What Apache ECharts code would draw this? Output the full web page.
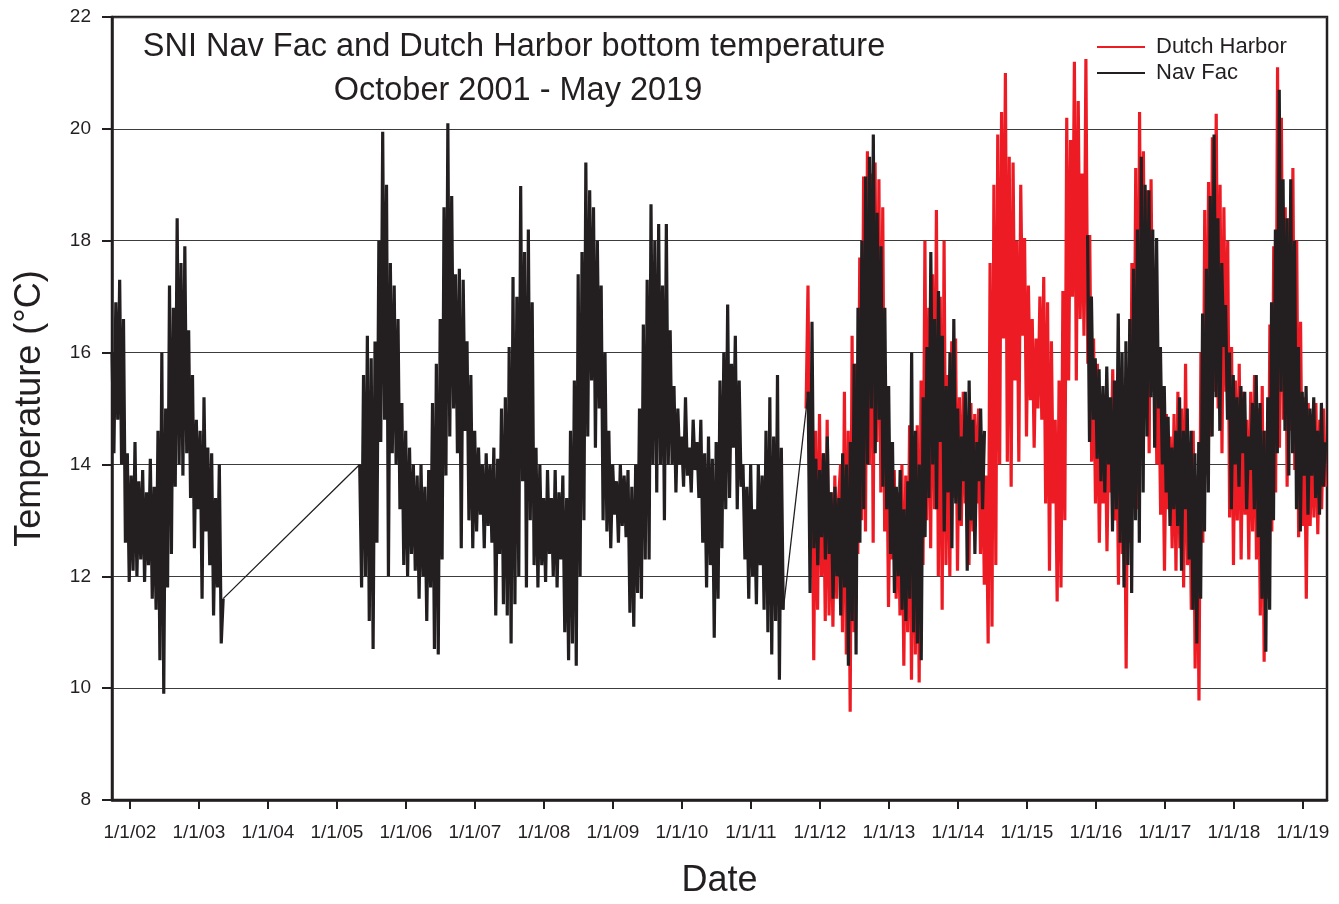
<!DOCTYPE html>
<html>
<head>
<meta charset="utf-8">
<title>SNI Nav Fac and Dutch Harbor bottom temperature</title>
<script src="https://cdn.jsdelivr.net/npm/echarts@6/dist/echarts.min.js"></script>
<style>
  html, body { margin: 0; padding: 0; background: #fff; }
  #chart { width: 1339px; height: 904px; }
</style>
</head>
<body>
<div id="chart"></div>
<script>
// Bottom temperature records (°C), sampled roughly every ten days.
// Each record segment begins at a decimal-year date and runs at SAMPLE_STEP.
const SAMPLE_STEP = 1 / 36;

// Nav Fac, Oct 2001 - May 2003
const navFac2001Start = 2001.74;
const navFac2001 = [16.0,14.2,16.9,14.8,17.3,14.0,16.6,12.6,14.2,11.9,
  13.8,12.1,14.4,12.0,13.7,12.3,13.9,11.9,13.5,12.2,
  14.1,11.6,13.6,11.4,14.6,10.5,16.0,9.9,15.0,11.8,
  17.2,12.4,16.8,13.6,18.4,14.0,17.6,13.8,17.9,14.2,
  16.4,13.4,15.6,12.5,14.8,13.2,14.6,11.6,15.2,12.8,
  14.3,12.2,14.2,11.3,13.4,11.8,14.0,10.8,11.6];

// Nav Fac, May 2005 - Jun 2011
const navFac2005Start = 2005.33;
const navFac2005 = [14.0,11.8,15.6,12.0,16.3,11.2,15.9,10.7,16.2,12.6,
  18.0,14.4,19.95,14.8,19.0,12.0,17.6,14.2,17.2,14.0,
  16.6,13.2,15.1,12.2,14.6,12.0,14.3,12.4,14.0,12.1,
  13.8,11.6,14.0,12.0,13.6,11.2,13.9,11.8,15.1,10.7,
  15.8,10.6,16.6,12.3,18.6,13.8,20.1,14.5,18.8,15.0,
  17.4,14.2,17.5,12.5,17.3,14.6,16.2,13.0,15.6,12.5,
  14.6,12.8,14.3,13.1,14.0,12.5,14.2,12.9,14.0,12.6,
  14.3,11.3,14.1,12.4,15.0,11.5,15.2,11.3,16.1,10.8,
  17.35,11.5,17.0,12.0,18.98,13.7,17.8,11.8,18.2,13.0,
  16.9,12.2,14.3,11.8,14.0,12.2,13.4,11.9,13.9,12.4,
  13.4,12.0,13.9,11.8,13.5,12.3,13.8,11.0,13.4,10.5,
  14.6,10.8,15.5,10.4,17.4,12.0,17.8,13.0,19.4,14.5,
  18.9,15.5,18.6,14.3,18.0,15.0,17.2,13.0,16.0,12.8,
  14.6,12.5,14.0,13.1,13.7,12.6,14.0,12.9,13.8,12.7,
  13.9,11.35,13.6,11.1,14.0,11.7,15.0,11.6,16.5,12.3,
  17.3,12.3,18.65,14.0,18.0,13.5,18.3,14.0,17.2,13.0,
  18.3,14.0,16.4,14.0,15.4,13.5,15.0,14.0,14.5,13.6,
  15.2,13.8,14.3,13.5,14.8,13.9,14.4,13.4,14.8,12.6,
  14.2,11.8,14.5,12.2,14.1,10.9,14.4,11.6,15.5,12.5,
  16.0,13.2,16.86,13.4,15.8,14.3,16.3,13.2,15.5,13.6,
  14.0,12.3,13.6,11.6,14.0,12.0,13.2,11.5,14.0,12.2,
  13.8,11.4,14.6,11.0,15.2,10.6,14.5,11.2,15.6,10.15,14.3,11.4];

// Nav Fac, Oct 2011 - May 2014
const navFac2011Start = 2011.83;
const navFac2011 = [15.3,11.7,16.55,12.5,14.1,12.2,13.9,12.7,14.2,12.3,
  14.5,12.4,13.5,11.6,13.6,12.0,13.4,11.3,14.2,11.8,
  14.0,10.4,14.4,11.2,15.8,10.6,16.8,12.6,18.0,13.2,
  19.15,14.0,19.5,15.0,19.9,14.2,18.5,14.8,17.9,13.6,
  16.8,13.2,15.4,12.4,14.4,11.7,13.6,12.0,13.9,11.4,
  13.2,11.2,13.7,11.6,16.0,11.0,14.6,10.8,14.0,10.5,
  15.2,12.7,16.1,13.4,17.8,14.0,16.6,13.2,17.1,14.4,
  16.3,12.8,15.4,13.5,16.0,12.5,16.6,13.3,15.0,13.0,
  14.5,13.7,15.3,12.1,15.5,13.0,14.8,12.4,14.4,13.7,
  15.0,13.2,14.6];

// Nav Fac, Nov 2015 - May 2019 (no record in between)
const navFac2015Start = 2015.88;
const navFac2015 = [18.1,14.4,17.0,14.8,15.9,14.1,15.7,13.7,15.4,13.5,
  15.75,14.0,15.2,12.8,15.5,13.2,16.7,12.6,16.0,11.8,
  16.2,12.2,16.6,11.7,17.5,13.0,18.2,12.6,19.5,13.5,
  19.0,14.5,18.9,15.2,18.2,14.3,18.05,15.0,16.1,14.0,
  15.4,13.5,14.85,12.9,14.3,13.2,14.6,12.9,15.2,12.1,
  14.6,13.2,15.0,12.3,14.6,11.4,14.2,10.8,14.4,11.6,
  16.7,12.8,17.5,13.5,18.8,14.5,19.9,15.2,18.4,14.6,
  17.6,16.1,16.85,14.8,16.0,13.2,15.6,14.0,15.2,13.6,
  15.4,14.2,15.3,13.2,14.5,13.9,15.1,13.2,15.6,12.7,
  15.1,11.6,14.6,10.65,15.2,11.4,16.9,13.0,18.2,14.2,
  20.7,15.3,19.1,14.6,18.4,13.8,19.1,14.2,18.0,13.2,
  16.1,12.8,15.3,13.8,15.4,13.1,15.0,13.8,15.2,13.4,
  14.6,13.1,15.1,13.6,14.4];

// Dutch Harbor, Oct 2011 - May 2019
const dutchHarborStart = 2011.80;
const dutchHarbor = [15.0,17.2,13.0,14.8,10.5,14.6,11.4,14.9,12.0,14.2,
  11.2,14.8,11.3,13.5,11.1,13.8,11.6,13.4,
  14.0,11.0,15.3,10.6,14.6,9.58,16.3,11.0,15.8,12.4,17.7,13.0,
  19.15,12.8,19.6,14.0,19.2,12.6,19.4,14.4,19.1,13.5,
  18.6,12.8,15.0,11.45,13.9,12.3,13.9,11.6,13.5,11.3,
  14.0,10.4,13.8,11.0,14.7,10.15,14.2,10.6,14.7,10.1,
  15.5,12.2,18.0,13.0,16.8,12.5,17.4,13.2,18.55,12.0,
  17.0,11.4,18.0,12.2,15.6,12.0,16.2,13.4,16.25,12.1,
  15.2,12.9,15.3,13.3,14.8,12.2,15.1,12.8,14.9,13.3,
  15.0,12.4,14.5,11.85,13.8,10.8,17.6,11.1,19.0,12.2,
  19.9,14.0,20.3,16.25,21.0,14.05,19.5,13.6,19.4,15.5,
  18.0,14.05,19.0,16.3,18.05,14.5,17.2,15.15,16.6,14.3,
  16.25,15.0,17.0,14.8,17.35,13.3,16.9,12.1,16.2,13.3,
  14.8,11.55,15.5,11.8,17.1,13.0,20.2,15.5,19.8,17.0,
  21.2,15.5,20.5,16.6,19.2,16.3,21.25,15.8,18.1,14.05,
  16.25,13.3,15.8,12.6,14.8,13.3,15.0,12.45,14.6,13.5,
  15.7,13.0,15.2,11.85,15.7,12.4,14.9,10.35,15.4,12.6,
  17.6,13.9,19.3,13.2,20.3,14.5,19.6,15.0,18.9,14.2,
  19.1,15.3,17.0,14.0,15.7,13.1,15.0,12.1,14.9,13.2,
  14.5,12.5,14.9,12.1,15.3,12.5,15.0,11.8,15.8,12.2,
  14.2,11.4,14.6,10.35,13.8,9.78,16.0,12.6,18.55,13.8,
  19.05,14.5,19.85,15.3,20.27,15.0,19.0,14.2,18.6,15.3,
  18.0,13.05,16.1,12.2,15.5,13.0,15.8,12.3,15.3,13.1,
  14.8,12.3,15.3,12.8,15.6,12.3,15.0,11.3,15.4,10.47,
  14.6,11.6,16.5,12.8,17.9,13.5,21.1,14.3,20.2,14.8,
  18.6,13.6,18.4,14.6,19.3,13.9,18.0,12.7,16.55,12.9,
  15.2,11.6,15.1,12.9,14.6,13.05,15.1,12.75,14.8,13.2,15.0,13.6];

// Axis ticks: 1 January of each year, temperature 8-22 °C
const yearTicks = [2002,2003,2004,2005,2006,2007,2008,2009,2010,2011,2012,2013,2014,2015,2016,2017,2018,2019];
const dateMin = 2001.74, dateMax = 2019.35;
const tempMin = 8, tempMax = 22, tempStep = 2;

const INK = '#231f20';
const RED = '#ed1c24';
const FONT = '"Liberation Sans", Arial, Helvetica, sans-serif';

// [date, value] pairs for one record segment
function segmentPoints(start, values) {
  return values.map((v, i) => [start + i * SAMPLE_STEP, v]);
}

// Several segments in one stroke list, broken between segments
function withBreaks(list) {
  const pts = [];
  list.forEach((seg, k) => {
    if (k > 0) pts.push([seg[0][0] - SAMPLE_STEP / 2, null]);
    pts.push(...seg);
  });
  return pts;
}

const navFacSegments = [
  segmentPoints(navFac2001Start, navFac2001),
  segmentPoints(navFac2005Start, navFac2005),
  segmentPoints(navFac2011Start, navFac2011),
  segmentPoints(navFac2015Start, navFac2015)
];
// The logger plot joins the 2003-2005 and 2011 outages with a straight line
const navFacJoins = withBreaks([
  [navFacSegments[0][navFacSegments[0].length - 1], navFacSegments[1][0]],
  [navFacSegments[1][navFacSegments[1].length - 1], navFacSegments[2][0]]
]);
const navFacPoints = withBreaks(navFacSegments);
const dutchHarborPoints = segmentPoints(dutchHarborStart, dutchHarbor);

const chart = echarts.init(document.getElementById('chart'), null, { renderer: 'canvas' });

chart.setOption({
  animation: false,
  backgroundColor: '#ffffff',
  textStyle: { fontFamily: FONT, color: INK },
  grid: {
    left: 112, right: 12, top: 17, bottom: 100,
    show: true, borderColor: INK, borderWidth: 2.5, backgroundColor: 'transparent'
  },
  graphic: [
    {
      type: 'text', x: 514, y: 47, z: 10,
      style: {
        text: 'SNI Nav Fac and Dutch Harbor bottom temperature',
        font: '32.5px ' + FONT, fill: INK,
        textAlign: 'center', textVerticalAlign: 'middle', align: 'center', verticalAlign: 'middle'
      }
    },
    {
      type: 'text', x: 518, y: 91, z: 10,
      style: {
        text: 'October 2001 - May 2019',
        font: '32.5px ' + FONT, fill: INK,
        textAlign: 'center', textVerticalAlign: 'middle', align: 'center', verticalAlign: 'middle'
      }
    }
  ],
  legend: {
    orient: 'vertical',
    left: 1097, top: 36,
    padding: 0,
    itemGap: 4,
    itemWidth: 48,
    itemHeight: 2,
    icon: 'rect',
    textStyle: { fontFamily: FONT, fontSize: 22, color: INK, padding: [0, 0, 0, 6] },
    data: ['Dutch Harbor', 'Nav Fac']
  },
  xAxis: {
    type: 'value',
    min: dateMin, max: dateMax,
    name: 'Date',
    nameLocation: 'middle',
    nameGap: 63,
    nameTextStyle: { fontFamily: FONT, fontSize: 36, color: INK },
    axisLine: { show: true, lineStyle: { color: INK, width: 2.5 } },
    axisTick: {
      show: true, inside: false, length: 9,
      customValues: yearTicks,
      lineStyle: { color: INK, width: 2 }
    },
    axisLabel: {
      customValues: yearTicks,
      margin: 23,
      fontFamily: FONT, fontSize: 19, color: INK,
      formatter: v => '1/1/' + String(Math.round(v)).slice(2)
    },
    splitLine: { show: false }
  },
  yAxis: {
    type: 'value',
    min: tempMin, max: tempMax, interval: tempStep,
    name: 'Temperature (°C)',
    nameLocation: 'middle',
    nameGap: 64,
    nameTextStyle: { fontFamily: FONT, fontSize: 36, color: INK },
    axisLine: { show: true, lineStyle: { color: INK, width: 2.5 } },
    axisTick: { show: true, inside: false, length: 10, lineStyle: { color: INK, width: 2 } },
    axisLabel: { margin: 21, fontFamily: FONT, fontSize: 19, color: INK },
    splitLine: { show: true, lineStyle: { color: '#3c3c3c', width: 1.2 } }
  },
  series: [
    {
      name: 'Dutch Harbor',
      type: 'line',
      data: dutchHarborPoints,
      showSymbol: false, symbol: 'none',
      lineStyle: { color: RED, width: 3.2, join: 'miter', miterLimit: 2 },
      itemStyle: { color: RED },
      z: 2
    },
    {
      name: 'Nav Fac',
      type: 'line',
      data: navFacPoints,
      showSymbol: false, symbol: 'none',
      connectNulls: false,
      lineStyle: { color: INK, width: 3.2, join: 'miter', miterLimit: 2 },
      itemStyle: { color: INK },
      z: 3
    },
    {
      name: 'Nav Fac',
      type: 'line',
      data: navFacJoins,
      showSymbol: false, symbol: 'none',
      connectNulls: false,
      lineStyle: { color: INK, width: 1.3 },
      itemStyle: { color: INK },
      z: 3
    }
  ]
});
</script>
</body>
</html>
